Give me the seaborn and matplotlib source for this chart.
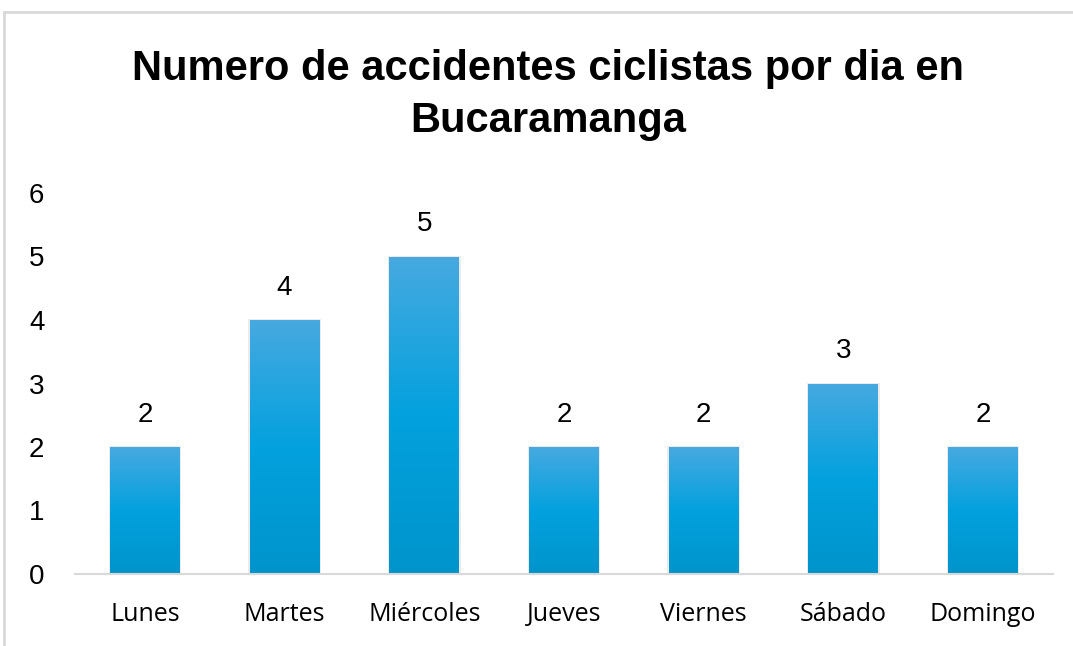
import matplotlib
matplotlib.use("Agg")
import matplotlib.pyplot as plt
import seaborn as sns
import numpy as np
from matplotlib.colors import LinearSegmentedColormap
from matplotlib.patches import Rectangle

dias = ["Lunes", "Martes", "Miércoles", "Jueves", "Viernes", "Sábado", "Domingo"]
accidentes = [2, 4, 5, 2, 2, 3, 2]
titulo = "Numero de accidentes ciclistas por dia en\nBucaramanga"

sns.set_style("white")
plt.rcParams['font.family'] = ['Liberation Sans', 'DejaVu Sans']

fig = plt.figure(figsize=(10.73, 6.46), dpi=100)
ax = fig.add_axes([75 / 1073, 72 / 646, 978 / 1073, 381 / 646])

sns.barplot(x=dias, y=accidentes, width=0.5, color="#05A0DC", ax=ax)

# degradado vertical en cada barra, como en Excel
cmap = LinearSegmentedColormap.from_list("barra", ["#0094CB", "#03A1DE", "#47A9E0"])
grad = np.linspace(0, 1, 256).reshape(-1, 1)
for p in ax.patches:
    x0, y0 = p.get_x(), p.get_y()
    w, h = p.get_width(), p.get_height()
    # sombra suave
    ax.add_patch(Rectangle((x0 - 0.01, y0), w + 0.02, h + 0.015, facecolor="#000000",
                           alpha=0.08, edgecolor="none", zorder=1))
    im = ax.imshow(grad, cmap=cmap, aspect="auto", origin="lower",
                   extent=[x0, x0 + w, y0, y0 + h], zorder=2)
    im.set_clip_path(p)
    p.set_facecolor("none")
    p.set_edgecolor("none")

ax.bar_label(ax.containers[0], padding=14, fontsize=20, color="#000000")

ax.set_xlim(-0.5, 6.5)
ax.set_ylim(0, 6)
ax.set_yticks(range(0, 7))
ax.set_xlabel("")
ax.set_ylabel("")
for s in ["top", "right", "left"]:
    ax.spines[s].set_visible(False)
ax.spines["bottom"].set_color("#D9D9D9")
ax.spines["bottom"].set_linewidth(1.5)
ax.tick_params(axis="both", length=0)
ax.tick_params(axis="y", pad=22, labelsize=20, labelcolor="#000000")
ax.tick_params(axis="x", pad=20, labelsize=18, labelcolor="#000000")
for lbl in ax.get_xticklabels():
    lbl.set_family(["Open Sans", "DejaVu Sans"])

fig.text(548 / 1073, 1 - 95 / 646, titulo, ha="center", va="center", fontsize=30,
         fontweight="bold", color="#000000", family=["Liberation Sans", "DejaVu Sans"],
         linespacing=1.4)

# marco del gráfico
fig.patches.append(Rectangle((4 / 1073, -0.1), 1.2, 1 - 12 / 646 + 0.1, transform=fig.transFigure,
                             facecolor="none", edgecolor="#D9D9D9", linewidth=2))

fig.savefig("out.png", dpi=100)
